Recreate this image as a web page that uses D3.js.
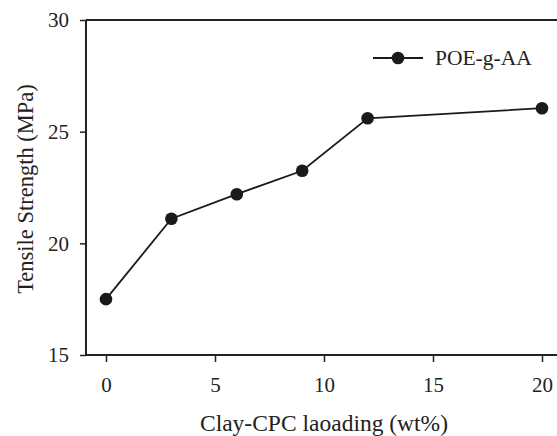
<!DOCTYPE html>
<html>
<head>
<meta charset="utf-8">
<script src="https://cdn.jsdelivr.net/npm/d3@7"></script>
<style>
body { margin: 0; background: #fff; }
svg text { font-family: "Liberation Serif", "DejaVu Serif", serif; fill: #222; }
</style>
</head>
<body>
<div id="chart"></div>
<script>
// data
var loading = [0, 3, 6, 9, 12, 20]
var strength = [17.5, 21.1, 22.2, 23.25, 25.6, 26.05]
var xTicks = [0, 5, 10, 15, 20]
var yTicks = [15, 20, 25, 30]
var seriesName = "POE-g-AA"

var width = 557, height = 436

var svg = d3.select("#chart")
    .append("svg")
        .attr("width", width)
        .attr("height", height)

var x = d3.scaleLinear().domain([0, 20]).range([106, 542])
var y = d3.scaleLinear().domain([15, 30]).range([355, 20])

var left = x.invert(86), right = x.invert(570)

// top frame line
svg.append("line")
    .attr("x1", x(left)).attr("x2", x(right))
    .attr("y1", y(30)).attr("y2", y(30))
    .attr("stroke", "#222").attr("stroke-width", 2)

var xAxis = svg.append("g")
    .attr("transform", "translate(0," + y(15) + ")")
    .call(d3.axisBottom(x).tickValues(xTicks).tickSize(7).tickPadding(15).tickFormat(d3.format("d")))
xAxis.select(".domain").remove()
xAxis.append("line")
    .attr("x1", x(left)).attr("x2", x(right))
    .attr("stroke", "#222").attr("stroke-width", 2)

var yAxis = svg.append("g")
    .attr("transform", "translate(" + x(left) + ",0)")
    .call(d3.axisLeft(y).tickValues(yTicks).tickSize(6).tickPadding(11).tickFormat(d3.format("d")))
yAxis.select(".domain").remove()
yAxis.append("line")
    .attr("y1", y(15)).attr("y2", y(30))
    .attr("stroke", "#222").attr("stroke-width", 2)

svg.selectAll(".tick line").attr("stroke", "#222").attr("stroke-width", 1.5)
svg.selectAll(".tick text").attr("font-size", 21).attr("fill", "#222")
    .style("font-family", "'Liberation Serif', serif")

var pts = loading.map(function(d, i) { return [d, strength[i]] })

svg.append("path")
    .datum(pts)
    .attr("fill", "none")
    .attr("stroke", "#1a1a1a")
    .attr("stroke-width", 1.8)
    .attr("d", d3.line().x(function(d) { return x(d[0]) }).y(function(d) { return y(d[1]) }))

svg.selectAll(".pt")
    .data(pts)
    .enter().append("circle")
        .attr("class", "pt")
        .attr("cx", function(d) { return x(d[0]) })
        .attr("cy", function(d) { return y(d[1]) })
        .attr("r", 6.3)
        .attr("fill", "#1a1a1a")

// legend
var lg = svg.append("g").attr("transform", "translate(373,58)")
lg.append("line").attr("x1", 0).attr("x2", 50).attr("stroke", "#1a1a1a").attr("stroke-width", 1.8)
lg.append("circle").attr("cx", 25).attr("r", 6.3).attr("fill", "#1a1a1a")
lg.append("text").attr("x", 62).attr("y", 7).attr("font-size", 21.5).text(seriesName)

// axis titles
svg.append("text")
    .attr("x", 324).attr("y", 431)
    .attr("text-anchor", "middle")
    .attr("font-size", 23.5)
    .text("Clay-CPC laoading (wt%)")

svg.append("text")
    .attr("transform", "translate(33,189) rotate(-90)")
    .attr("text-anchor", "middle")
    .attr("font-size", 22.5)
    .text("Tensile Strength (MPa)")
</script>
</body>
</html>
